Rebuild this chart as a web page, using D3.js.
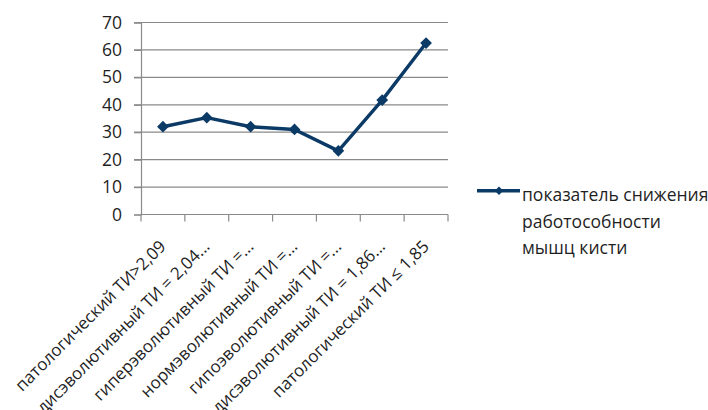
<!DOCTYPE html>
<html><head><meta charset="utf-8">
<script src="https://cdn.jsdelivr.net/npm/d3@7"></script>
<style>
body{margin:0;background:#fff;}
text{font-family:"Open Sans",Lato,sans-serif;fill:#1f1f1f;}
</style></head>
<body><svg id="c" width="708" height="410"></svg>
<script>
const categories = ["патологический ТИ>2,09","дисэволютивный ТИ = 2,04...","гиперэволютивный ТИ =...","нормэволютивный ТИ =...","гипоэволютивный ТИ =...","дисэволютивный ТИ = 1,86...","патологический ТИ ≤ 1,85"];
const values = [32, 35.3, 32, 31, 23.2, 41.7, 62.5];
const yTicks = [0,10,20,30,40,50,60,70];
const seriesName = ["показатель снижения","работособности","мышц кисти"];

const svg = d3.select("#c");
const color = "#0b3a66";
const grid = "#8a8a8a";
const pL = 141, pR = 448, pT = 22.5, pB = 214.5;
const x = d3.scaleBand().domain(categories).range([pL, pR]);
const y = d3.scaleLinear().domain([0,70]).range([pB, pT]);

// gridlines
svg.append("g").selectAll("line").data(yTicks.slice(1)).join("line")
  .attr("x1", pL-7).attr("x2", pR).attr("y1", d=>y(d)).attr("y2", d=>y(d))
  .attr("stroke",grid).attr("stroke-width",1.2);

// y axis
const ya = svg.append("g").attr("transform",`translate(${pL},0)`)
  .call(d3.axisLeft(y).tickValues(yTicks).tickSize(7).tickPadding(12));
ya.select(".domain").attr("stroke",grid).attr("stroke-width",1.2);
ya.selectAll(".tick line").attr("stroke",grid).attr("stroke-width",1.2);
ya.selectAll("text").attr("font-size",17.5).attr("fill","#1f1f1f").attr("font-family","Open Sans");

// x axis
const xa = svg.append("g").attr("transform",`translate(0,${pB})`)
  .call(d3.axisBottom(x).tickSize(0).tickFormat(""));
xa.select(".domain").attr("stroke",grid).attr("stroke-width",1.2).attr("d",`M${pL},0H${pR}`);
const edges = categories.map(c=>x(c)).concat([pR]);
xa.selectAll("line.edge").data(edges).join("line").attr("class","edge")
  .attr("x1",d=>d).attr("x2",d=>d).attr("y1",0).attr("y2",7)
  .attr("stroke",grid).attr("stroke-width",1.2);

// x labels
svg.append("g").selectAll("text").data(categories).join("text")
  .attr("transform", d=>`translate(${x(d)+x.bandwidth()/2+4},${pB+33}) rotate(-45)`)
  .attr("text-anchor","end").attr("font-size",17)
  .text(d=>d);

// line
const line = d3.line().x((d,i)=>x(categories[i])+x.bandwidth()/2).y(d=>y(d));
svg.append("path").datum(values).attr("d",line).attr("fill","none")
  .attr("stroke",color).attr("stroke-width",3.4).attr("stroke-linejoin","round");
const diamond = d3.symbol().type(d3.symbolDiamond2).size(88);
svg.append("g").selectAll("path").data(values).join("path")
  .attr("transform",(d,i)=>`translate(${x(categories[i])+x.bandwidth()/2},${y(d)})`)
  .attr("d",diamond).attr("fill",color);

// legend
const lg = svg.append("g");
lg.append("line").attr("x1",477).attr("x2",520).attr("y1",190.7).attr("y2",190.7)
  .attr("stroke",color).attr("stroke-width",3.4);
lg.append("path").attr("transform","translate(499,190.7)")
  .attr("d",d3.symbol().type(d3.symbolDiamond2).size(45)).attr("fill",color);
lg.selectAll("text").data(seriesName).join("text")
  .attr("x",522).attr("y",(d,i)=>201+i*26.5).attr("font-size",17.5).text(d=>d);
</script></body></html>
